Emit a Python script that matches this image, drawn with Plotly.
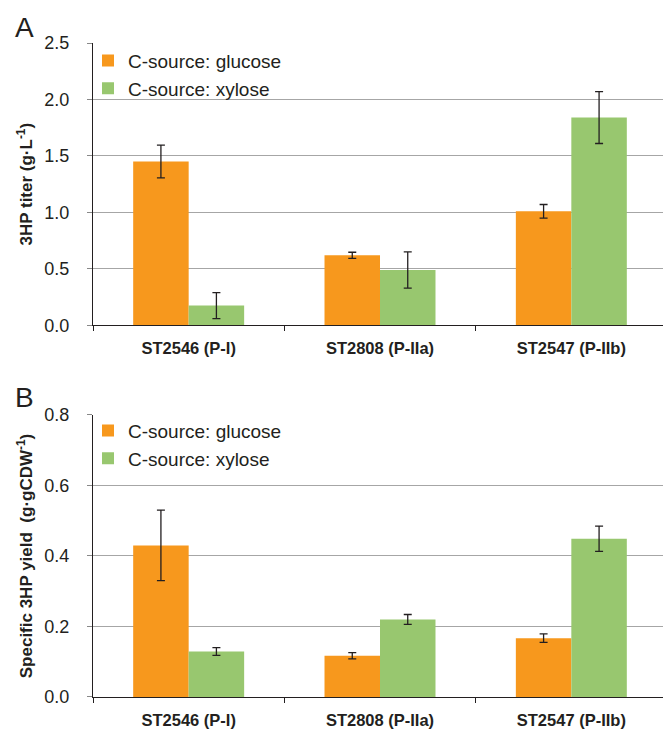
import plotly.graph_objects as go

strains = ["ST2546 (P-I)", "ST2808 (P-IIa)", "ST2547 (P-IIb)"]
series_names = ["C-source: glucose", "C-source: xylose"]

titer_glucose = [1.45, 0.62, 1.01]
titer_glucose_err = [0.145, 0.027, 0.06]
titer_xylose = [0.175, 0.49, 1.84]
titer_xylose_err = [0.115, 0.16, 0.23]

yield_glucose = [0.43, 0.117, 0.167]
yield_glucose_err = [0.10, 0.009, 0.012]
yield_xylose = [0.129, 0.22, 0.449]
yield_xylose_err = [0.011, 0.014, 0.036]

ORANGE = "#F7981D"
GREEN = "#98C76F"
ERR = "#231F20"
FONT = "Liberation Sans, Arial, sans-serif"

fig = go.Figure()

def add_bar(y, err, name, color, xa, ya, legend):
    fig.add_trace(go.Bar(
        x=strains, y=y, name=name, marker=dict(color=color, line=dict(width=0)),
        error_y=dict(type="data", array=err, visible=True, color=ERR, thickness=1.3, width=4),
        xaxis=xa, yaxis=ya, legend=legend,
    ))

add_bar(titer_glucose, titer_glucose_err, series_names[0], ORANGE, "x", "y", "legend")
add_bar(titer_xylose, titer_xylose_err, series_names[1], GREEN, "x", "y", "legend")
add_bar(yield_glucose, yield_glucose_err, series_names[0], ORANGE, "x2", "y2", "legend2")
add_bar(yield_xylose, yield_xylose_err, series_names[1], GREEN, "x2", "y2", "legend2")

xcommon = dict(
    type="category", showline=True, linecolor="#231F20", linewidth=1.2,
    ticks="outside", tickson="boundaries", ticklen=5, tickcolor="#231F20", tickwidth=1,
    showgrid=False, tickfont=dict(family=FONT, size=16.5, color="#231F20", weight="bold"),
    range=[-0.5, 2.5], automargin=False, ticklabelstandoff=8,
)
ycommon = dict(
    showline=True, linecolor="#231F20", linewidth=1.2, ticks="outside", ticklen=5,
    tickcolor="#888888", tickwidth=1, showgrid=True, gridcolor="#A6A6A6", gridwidth=1.3,
    zeroline=False, tickfont=dict(family=FONT, size=18, color="#231F20"),
    automargin=False, ticklabelstandoff=14, tickformat=".1f",
)
TITLE_FONT = dict(family=FONT, size=17, color="#231F20", weight="bold")
LEG_FONT = dict(family=FONT, size=19, color="#231F20")

fig.update_layout(
    width=663, height=723,
    margin=dict(l=85, r=4, t=35, b=34),
    paper_bgcolor="white", plot_bgcolor="white",
    barmode="group", bargap=0.42, bargroupgap=0,
    font=dict(family=FONT, color="#231F20"),
    xaxis=dict(**xcommon, domain=[0, 1], anchor="y"),
    yaxis=dict(**ycommon, domain=[0.5683, 1.0], anchor="x", range=[0, 2.5], dtick=0.5,
               title=dict(text="3HP titer (g·L<sup>-1</sup>)", standoff=7, font=TITLE_FONT)),
    xaxis2=dict(**xcommon, domain=[0, 1], anchor="y2"),
    yaxis2=dict(**ycommon, domain=[0, 0.4312], anchor="x2", range=[0, 0.8], dtick=0.2,
                title=dict(text="Specific 3HP yield  (g·gCDW<sup>-1</sup>)", standoff=7,
                           font=TITLE_FONT)),
    legend=dict(x=-0.0087, y=1.002, xanchor="left", yanchor="top", bgcolor="rgba(0,0,0,0)",
                font=LEG_FONT, tracegroupgap=0, itemwidth=30),
    legend2=dict(x=-0.0087, y=0.4362, xanchor="left", yanchor="top", bgcolor="rgba(0,0,0,0)",
                 font=LEG_FONT, tracegroupgap=0, itemwidth=30),
    annotations=[
        dict(text="A", xref="paper", yref="paper", x=-0.139, y=1.0505, xanchor="left",
             yanchor="top", showarrow=False, font=dict(family=FONT, size=28, color="#231F20")),
        dict(text="B", xref="paper", yref="paper", x=-0.139, y=0.4847, xanchor="left",
             yanchor="top", showarrow=False, font=dict(family=FONT, size=28, color="#231F20")),
    ],
)

fig.write_html("out.html")
